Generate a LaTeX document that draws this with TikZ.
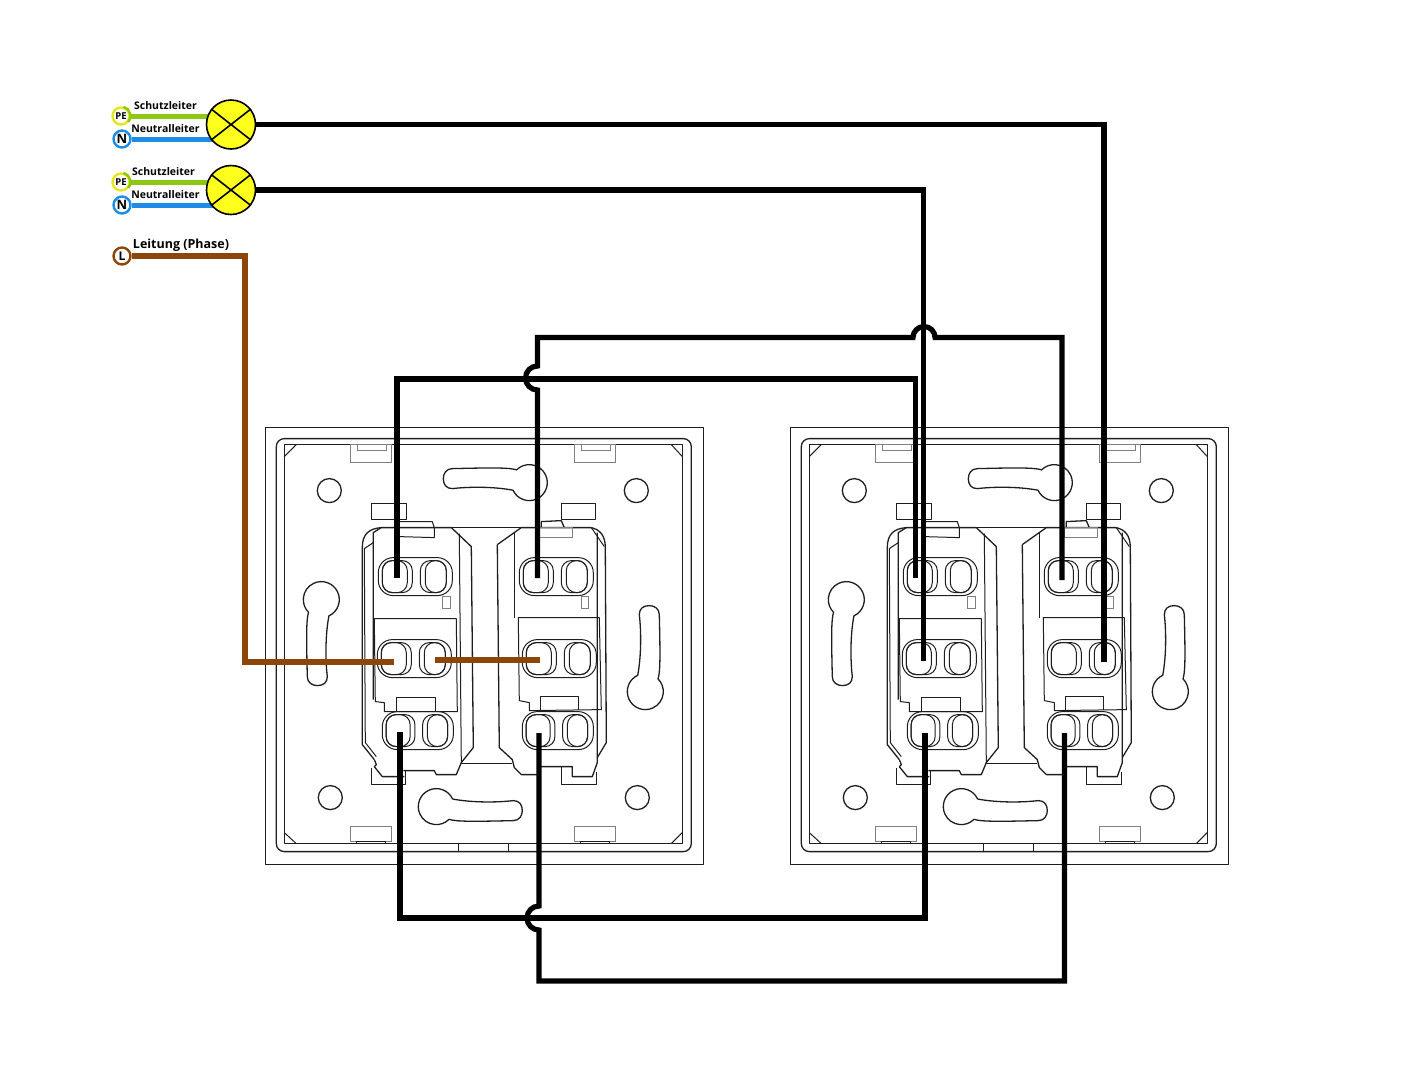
\documentclass[tikz,border=0pt]{standalone}
\usepackage{fontspec}
\setmainfont{Open Sans}
\usetikzlibrary{backgrounds}
\definecolor{ink}{HTML}{1E1E1E}
\definecolor{tabgray}{HTML}{808080}
\definecolor{pegreen}{HTML}{8CC814}
\definecolor{peyellow}{HTML}{E6E61E}
\definecolor{nblue}{HTML}{1E8CE6}
\definecolor{phasebrown}{HTML}{8C460A}
\definecolor{lampyellow}{HTML}{FFFF1E}
\tikzset{
  wire/.style={line width=5.2pt, black},
  ln/.style={draw=ink, line width=1.3pt, line join=round},
  thinln/.style={draw=ink, line width=1pt, line join=round},
  tabln/.style={draw=tabgray, line width=1.1pt},
  lamp/.style={circle, draw=black, fill=lampyellow, line width=1.6pt, minimum size=49pt, inner sep=0pt},
  term/.style={circle, fill=white, line width=2.4pt, minimum size=17pt, inner sep=0pt, font=\bfseries},
  wirelabel/.style={font=\bfseries\fontsize{10.5}{12}\selectfont, inner sep=0pt},
  pair/.pic={
    \draw[thinln, rounded corners=15pt] (0,0) rectangle (74,38);
    \draw[thinln, rounded corners=10pt] (4,3) rectangle (34,35);
    \draw[thinln, rounded corners=10pt] (4,3) rectangle (29,35);
    \draw[thinln, rounded corners=10pt] (42,3) rectangle (68,35);
    \draw[thinln, rounded corners=10pt] (47,3) rectangle (68,35);
  },
  keyhole/.pic={
    \draw[ln] (0,0) +(205:18pt) arc[start angle=205, end angle=495, radius=18pt]
      .. controls (-20,-15) and (-35,-15) .. (-77,-14) .. controls (-83,-14) and (-86,-9) .. (-86,-4)
      .. controls (-86,2) and (-83,6) .. (-77,6) .. controls (-60,4) and (-35,4) .. cycle;
  },
  switchplate/.pic={
    \draw[thinln] (266,428) rectangle (704,865);
    \draw[ln, rounded corners=8pt] (277,439) rectangle (692,852);
    \draw[ln] (285,445) rectangle (683,844);
    \draw[thinln] (297,445) -- (285,457) (672,445) -- (683,457) (285,833) -- (297,844) (672,844) -- (683,833);
    \draw[thinln] (459,844) -- (459,852) (509,844) -- (509,852);
    \foreach \x in {351,575} {
      \draw[tabln] (\x,445) rectangle +(41,18);
      \draw[tabln] (\x+7,445) rectangle +(29,6);
      \draw[tabln] (\x,827) rectangle +(41,15);
      \draw[thinln] (\x+6,842) rectangle +(29,2);
    }
    \foreach \x/\y in {330/491, 637/491, 331/798, 638/798}
      \draw[ln] (\x,\y) circle[radius=12pt];
    \pic[rotate=0] at (530,483) {keyhole};
    \pic[rotate=180] at (437,807) {keyhole};
    \pic[rotate=90] at (322,600) {keyhole};
    \pic[rotate=-90] at (646,692) {keyhole};
    \draw[ln] (382,528) .. controls (370,529) and (363,534) .. (363,548) -- (363,745) -- (375,760);
    \draw[thinln] (374,543) -- (365,549) -- (366,743) -- (377,757);
    \draw[ln] (374,700) -- (374,533) -- (382,528) -- (452,528) -- (472,547) -- (474,748) -- (462,763) -- (457,775)
      -- (437,775) -- (435,771) -- (404,771);
    \draw[ln] (375,760) -- (377,765) -- (375,767) -- (383,777) -- (405,777);
    \draw[thinln] (460,534) -- (462,763);
    \draw[thinln] (400,522) -- (433,522) -- (435,528) -- (435,538) -- (400,537);
    \draw[thinln] (372,504) rectangle (407,520);
    \draw[thinln] (372,768) -- (372,785) -- (406,785) -- (406,771);
    \draw[thinln] (452,528) -- (522,528) (462,764) -- (513,764);
    \draw[tabln] (443,597) rectangle (451,609);
    \draw[thinln] (375,619) -- (457,619) -- (458,712) -- (385,712) -- (385,703) -- (376,702) -- cycle;
    \draw[thinln] (397,712) -- (397,698) -- (436,698) -- (436,712);
    \pic at (379,558) {pair};
    \pic at (378,640) {pair};
    \pic[xscale=.96] at (383,712) {pair};
    \draw[ln] (592,528) .. controls (600,530) and (606,535) .. (606,548) -- (607,743) -- (598,758);
    \draw[thinln] (592,528) -- (605,547);
    \draw[ln] (498,545) -- (522,528) -- (565,528) -- (562,521) -- (542,522) -- (542,528);
    \draw[ln] (565,528) -- (592,528) (598,533) -- (598,763) -- (593,777) -- (573,777) -- (573,767) -- (540,767) -- (540,775) -- (522,775)
      -- (515,768) -- (513,760) -- (500,748) -- (498,545);
    \draw[thinln] (515,533) -- (515,618);
    \draw[tabln] (540,528) rectangle (573,538);
    \draw[thinln] (562,504) rectangle (596,520);
    \draw[thinln] (562,767) -- (562,785) -- (597,785) -- (597,772);
    \draw[tabln] (582,597) rectangle (589,609);
    \draw[thinln] (519,618) -- (600,618) -- (602,710) -- (530,711) -- (530,703) -- (520,701) -- cycle;
    \draw[thinln] (541,710) -- (541,697) -- (579,697) -- (579,710);
    \pic at (520,558) {pair};
    \pic at (523,640) {pair};
    \pic[xscale=.96] at (523,712) {pair};
  }
}
\begin{document}
\begin{tikzpicture}[x=1pt, y=-1pt]
\useasboundingbox (0,0) rectangle (1410,1080);
\pic at (-.7,-.4) {switchplate};
\pic at (524.3,-.4) {switchplate};
\foreach \name/\x/\y in {a1/397/578, a2/915.5/578, b1/537.5/578, b2/1062/580, c1/923.5/661, d1/1104/662,
    e1/400/732, e2/925/733, f1/539/733, f2/1064.5/733, g1/394/662, g2/435/660, g3/540/660,
    jb1/537.5/366, jb2/537.5/390, jc1/913/337.5, jc2/935/337.5, jf1/539/906, jf2/539/930}
  \coordinate (\name) at (\x,\y);
\node[lamp] (lamp1) at (231,124.5) {};
\node[lamp] (lamp2) at (231,190) {};
\foreach \l in {lamp1,lamp2}
  \draw[line width=1.6pt] (\l.38) -- (\l.218) (\l.142) -- (\l.-38);
\node[term, draw=peyellow, font=\bfseries\fontsize{9.5}{10}\selectfont] (pe1) at (121,116) {PE};
\node[term, draw=nblue, font=\bfseries\fontsize{13}{14}\selectfont] (n1) at (122,139) {N};
\node[term, draw=peyellow, font=\bfseries\fontsize{9.5}{10}\selectfont] (pe2) at (121,182) {PE};
\node[term, draw=nblue, font=\bfseries\fontsize{13}{14}\selectfont] (n2) at (122,205) {N};
\node[term, draw=phasebrown, font=\bfseries\fontsize{12}{12}\selectfont] (phase) at (122,256) {L};
\foreach \p in {pe1,pe2}
  \draw[pegreen, line width=2.4pt] (\p.center) +(75:9.5pt) arc[start angle=75, end angle=-40, radius=9.5pt];
\begin{scope}[on background layer]
\draw[pegreen, line width=5pt] (pe1) -- (pe1 -| lamp1);
\draw[nblue, line width=5pt] (n1) -- (n1 -| lamp1);
\draw[pegreen, line width=5pt] (pe2) -- (pe2 -| lamp2);
\draw[nblue, line width=5pt] (n2) -- (n2 -| lamp2);
\end{scope}
\node[wirelabel] (lbl1) at (165.5,105.5) {Schutzleiter};
\node[wirelabel] (lbl2) at (165.5,129) {Neutralleiter};
\node[wirelabel] (lbl3) at (163.5,171.5) {Schutzleiter};
\node[wirelabel] (lbl4) at (165.5,194.5) {Neutralleiter};
\node[wirelabel, font=\bfseries\fontsize{12.5}{14}\selectfont] (lbl5) at (181,245.5) {Leitung (Phase)};
\draw[phasebrown, line width=5.2pt, line join=miter] (phase.east) -- (245,256) |- (g1);
\draw[phasebrown, line width=5.2pt] (g2) -- (g3);
\draw[wire] (lamp1.east) -| (d1);
\draw[wire] (lamp2.east) -| (c1);
\draw[wire] (a1) |- (538,379) -- (915.5,379) -- (a2);
\draw[wire] (b1) -- (jb2) arc[start angle=270, end angle=90, radius=12pt] -- (jb1) |- (jc1)
  arc[start angle=180, end angle=0, radius=11pt] -- (jc2) -| (b2);
\draw[wire] (e1) |- (700,918) -| (e2);
\draw[wire] (f1) -- (jf1) arc[start angle=90, end angle=270, radius=12pt] -- (jf2) |- (800,981) -| (f2);
\end{tikzpicture}
\end{document}
